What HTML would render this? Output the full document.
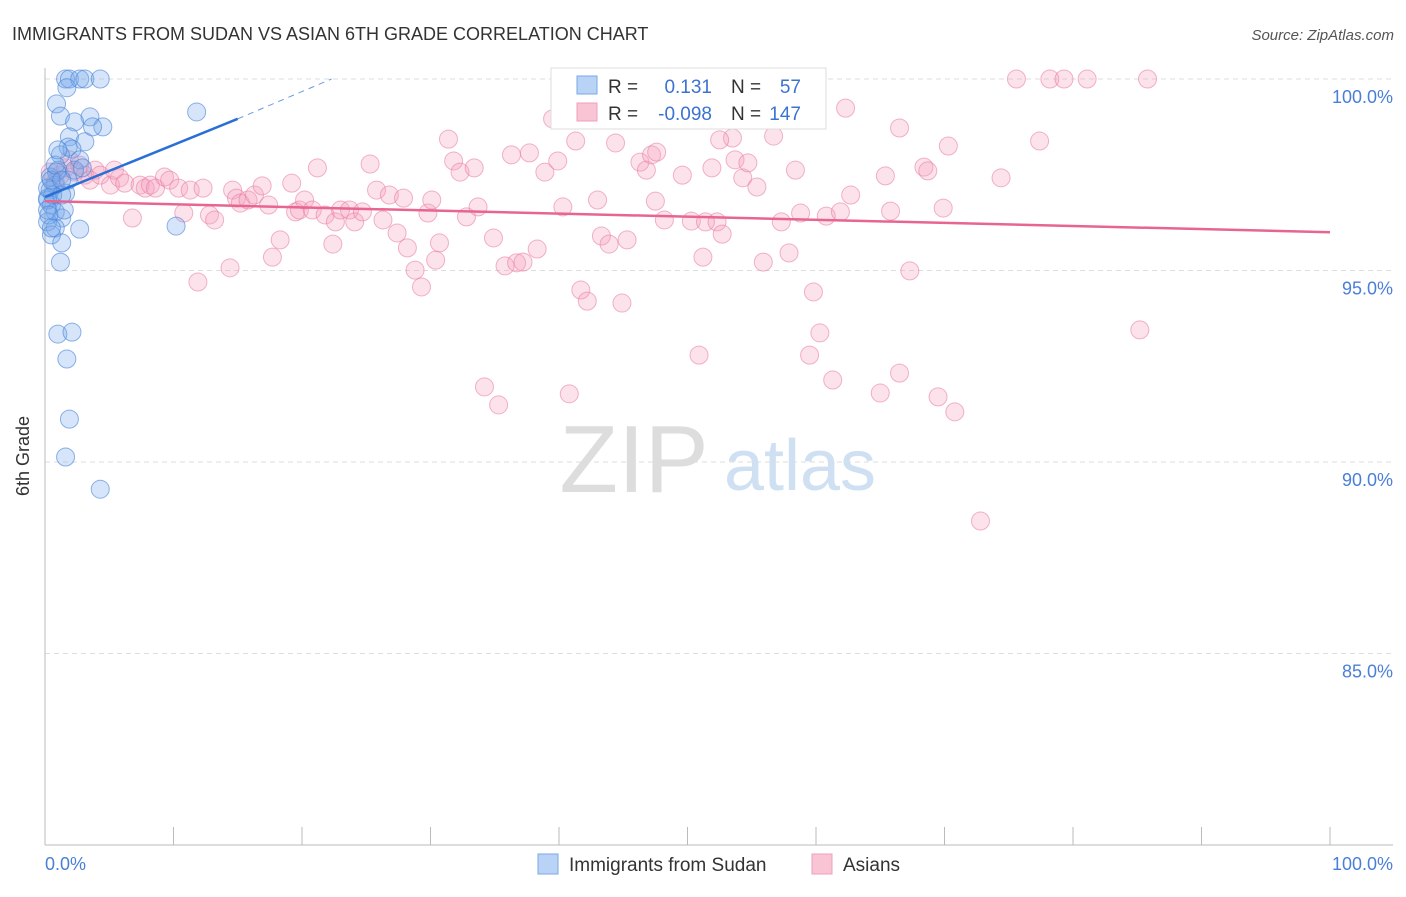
<!DOCTYPE html>
<html><head><meta charset="utf-8"><style>
body{margin:0;background:#fff;font-family:"Liberation Sans",sans-serif}
svg text{font-family:"Liberation Sans",sans-serif}
</style></head><body>
<svg id="chart" width="1406" height="892" xmlns="http://www.w3.org/2000/svg">
<text x="12" y="40" font-size="18" fill="#333">IMMIGRANTS FROM SUDAN VS ASIAN 6TH GRADE CORRELATION CHART</text>
<text x="1394" y="40" font-size="15" fill="#555" font-style="italic" text-anchor="end">Source: ZipAtlas.com</text>
<g id="grid"></g>
<g>
<text x="634" y="492" font-size="96" font-family="Liberation Serif" fill="#ddd" text-anchor="middle">ZIP</text>
<text x="800" y="490" font-size="72" fill="#cfe0f3" text-anchor="middle">atlas</text>
</g>
<line x1="45" y1="68" x2="45" y2="845" stroke="#bbb"/>
<line x1="45" y1="845" x2="1393" y2="845" stroke="#bbb"/>
<g id="xticks"></g>
<g id="pink"></g>
<g id="blue"></g>
<g id="lines"></g>
<text x="29" y="456" font-size="18" fill="#333" text-anchor="middle" transform="rotate(-90 29 456)">6th Grade</text>
<text x="45" y="870" font-size="18" fill="#4a7fd6">0.0%</text>
<text x="1393" y="870" font-size="18" fill="#4a7fd6" text-anchor="end">100.0%</text>
<g>
<rect x="551" y="68" width="275" height="61" fill="#fff" stroke="#ddd"/>
<rect x="577" y="76" width="20" height="18" fill="#b8d3f5" stroke="#7aa8e8"/>
<rect x="577" y="103" width="20" height="18" fill="#f9c5d5" stroke="#f0a0bb"/>
<text x="608" y="93" font-size="19" fill="#333">R =</text>
<text x="712" y="93" font-size="19" fill="#3a73d0" text-anchor="end">0.131</text>
<text x="731" y="93" font-size="19" fill="#333">N =</text>
<text x="801" y="93" font-size="19" fill="#3a73d0" text-anchor="end">57</text>
<text x="608" y="120" font-size="19" fill="#333">R =</text>
<text x="712" y="120" font-size="19" fill="#3a73d0" text-anchor="end">-0.098</text>
<text x="731" y="120" font-size="19" fill="#333">N =</text>
<text x="801" y="120" font-size="19" fill="#3a73d0" text-anchor="end">147</text>
</g>
<g>
<rect x="538" y="854" width="20" height="20" fill="#b8d3f5" stroke="#7aa8e8"/>
<text x="569" y="871" font-size="19" fill="#333">Immigrants from Sudan</text>
<rect x="812" y="854" width="20" height="20" fill="#f9c5d5" stroke="#f0a0bb"/>
<text x="843" y="871" font-size="19" fill="#333">Asians</text>
</g>
</svg>
<script>
const yTicks=[100,95,90,85];
const yTickLabels=["100.0%","95.0%","90.0%","85.0%"];
const xTickVals=[0,10,20,30,40,50,60,70,80,90,100];
const blueX=[1.6,1.9,2.7,3.1,4.3,1.7,0.9,3.5,1.2,2.3,4.5,3.7,1.9,1.8,3.1,2.1,1.2,2.7,1.0,0.4,0.8,1.6,0.4,0.2,0.5,0.8,1.3,0.2,0.8,2.7,0.5,1.3,1.2,1.0,2.1,1.7,1.9,1.6,4.3,11.8,10.2,0.2,0.6,0.9,0.2,1.3,0.5,0.2,1.8,0.8,2.3,2.9,1.0,1.5,0.3,0.5,1.3];
const blueY=[100,100,100,100,100,99.77,99.35,99.01,99.03,98.88,98.75,98.75,98.49,98.22,98.36,98.17,98.02,97.89,97.62,97.44,97.23,97.02,97.10,96.89,96.71,96.53,96.37,96.27,96.11,96.08,95.93,95.72,95.22,93.34,93.39,92.69,91.12,90.13,89.29,99.14,96.16,96.84,96.97,97.57,97.15,96.97,97.36,96.58,97.36,97.75,97.62,97.68,98.15,96.58,96.45,96.11,97.36];
const pinkX=[0.4,0.8,1.2,1.6,1.9,2.3,2.7,3.1,3.5,3.9,4.3,5.1,5.4,5.8,6.2,6.8,7.4,7.8,8.2,8.6,9.3,9.7,10.4,10.8,11.3,11.9,12.3,12.8,13.2,14.4,14.6,14.9,15.2,15.8,16.3,16.9,17.4,17.7,18.3,19.2,19.5,19.8,20.2,20.8,21.2,21.8,22.4,22.6,23.0,23.7,24.1,24.7,25.3,25.8,26.3,26.8,27.4,27.9,28.2,28.8,29.3,29.8,30.1,30.4,30.7,31.4,31.8,32.3,32.8,33.4,33.7,34.2,34.9,35.3,35.8,36.3,36.7,37.2,37.7,38.3,38.9,39.5,39.9,40.3,40.8,41.3,41.7,42.2,43.0,43.3,43.9,44.4,44.9,45.3,45.8,46.3,46.8,47.2,47.6,48.2,49.6,50.3,50.9,51.2,51.4,51.9,52.3,52.7,53.5,53.7,54.3,54.7,55.4,55.9,56.4,56.7,57.3,57.9,58.4,58.8,59.5,59.8,60.3,60.8,61.3,61.9,62.3,62.7,65.0,65.4,65.8,66.5,66.5,67.3,68.4,68.7,69.5,69.9,70.3,70.8,72.8,74.4,75.6,77.4,78.2,79.3,81.1,85.2,85.8,47.5,52.5];
const pinkY=[97.57,97.31,97.49,97.68,97.89,97.57,97.75,97.49,97.36,97.62,97.49,97.23,97.62,97.42,97.28,96.37,97.23,97.15,97.23,97.15,97.44,97.36,97.15,96.50,97.10,94.70,97.15,96.45,96.32,95.07,97.10,96.89,96.76,96.84,96.97,97.21,96.71,95.35,95.80,97.28,96.53,96.58,96.84,96.58,97.68,96.45,95.69,96.27,96.58,96.58,96.27,96.53,97.78,97.10,96.32,96.97,95.98,96.89,95.59,95.01,94.57,96.50,96.84,95.27,95.72,98.43,97.86,97.57,96.40,97.68,96.66,91.96,95.85,91.49,95.12,98.02,95.20,95.22,98.07,95.56,97.57,98.96,97.86,96.66,91.78,98.38,94.49,94.20,96.84,95.90,95.69,98.33,94.15,95.80,98.93,97.83,97.62,98.02,98.09,96.32,97.49,96.29,92.79,95.35,96.27,97.68,96.27,95.95,98.46,97.89,97.42,97.81,97.18,95.22,98.98,98.51,96.27,95.46,97.62,96.50,92.79,94.44,93.37,96.42,92.14,96.53,99.24,96.97,91.80,97.47,96.55,92.32,98.72,94.99,97.70,97.60,91.70,96.63,98.25,91.31,88.46,97.42,100,98.38,100,100,100,93.45,100,96.81,98.41];
const blueTrend=[0,96.92,15,98.96,22.3,100];
const pinkTrend=[0,96.81,100,96.0];

const NS="http://www.w3.org/2000/svg";
const X=v=>45+v*12.85;
const Y=v=>79+(100-v)*38.3;
function mk(tag,attrs,parent){const e=document.createElementNS(NS,tag);for(const k in attrs)e.setAttribute(k,attrs[k]);parent.appendChild(e);return e;}
const grid=document.getElementById('grid');
yTicks.forEach((t,i)=>{
  const l=mk('line',{x1:45,x2:1393,y1:Y(t),y2:Y(t),stroke:'#ddd','stroke-dasharray':'5,4'},grid);
  
  
  const tx=mk('text',{x:1393,y:Y(t)+24,'font-size':18,fill:'#4a7fd6','text-anchor':'end'},grid);
  tx.textContent=yTickLabels[i];
  
  
});
const xt=document.getElementById('xticks');
xTickVals.forEach(v=>{
  const l=mk('line',{x1:X(v),x2:X(v),y1:827,y2:845,stroke:'#bbb'},xt);
  
  
});
const pg=document.getElementById('pink');
pinkX.forEach((v,i)=>{
  const c=mk('circle',{cx:X(v),cy:Y(pinkY[i]),r:9,fill:'rgba(244,160,190,0.3)',stroke:'rgba(232,120,160,0.55)','stroke-width':1},pg);
  
  
});
const bg=document.getElementById('blue');
blueX.forEach((v,i)=>{
  const c=mk('circle',{cx:X(v),cy:Y(blueY[i]),r:9,fill:'rgba(120,170,235,0.3)',stroke:'rgba(70,130,215,0.6)','stroke-width':1},bg);
  
  
});
const lg=document.getElementById('lines');
const pl=mk('line',{x1:X(pinkTrend[0]),y1:Y(pinkTrend[1]),x2:X(pinkTrend[2]),y2:Y(pinkTrend[3]),stroke:'#e8658f','stroke-width':2.5},lg);


const bl=mk('line',{x1:X(blueTrend[0]),y1:Y(blueTrend[1]),x2:X(blueTrend[2]),y2:Y(blueTrend[3]),stroke:'#2a6fd6','stroke-width':2.5},lg);


const bd=mk('line',{x1:X(blueTrend[2]),y1:Y(blueTrend[3]),x2:X(blueTrend[4]),y2:Y(blueTrend[5]),stroke:'#6a9be0','stroke-width':1,'stroke-dasharray':'6,5'},lg);


</script>
</body></html>
